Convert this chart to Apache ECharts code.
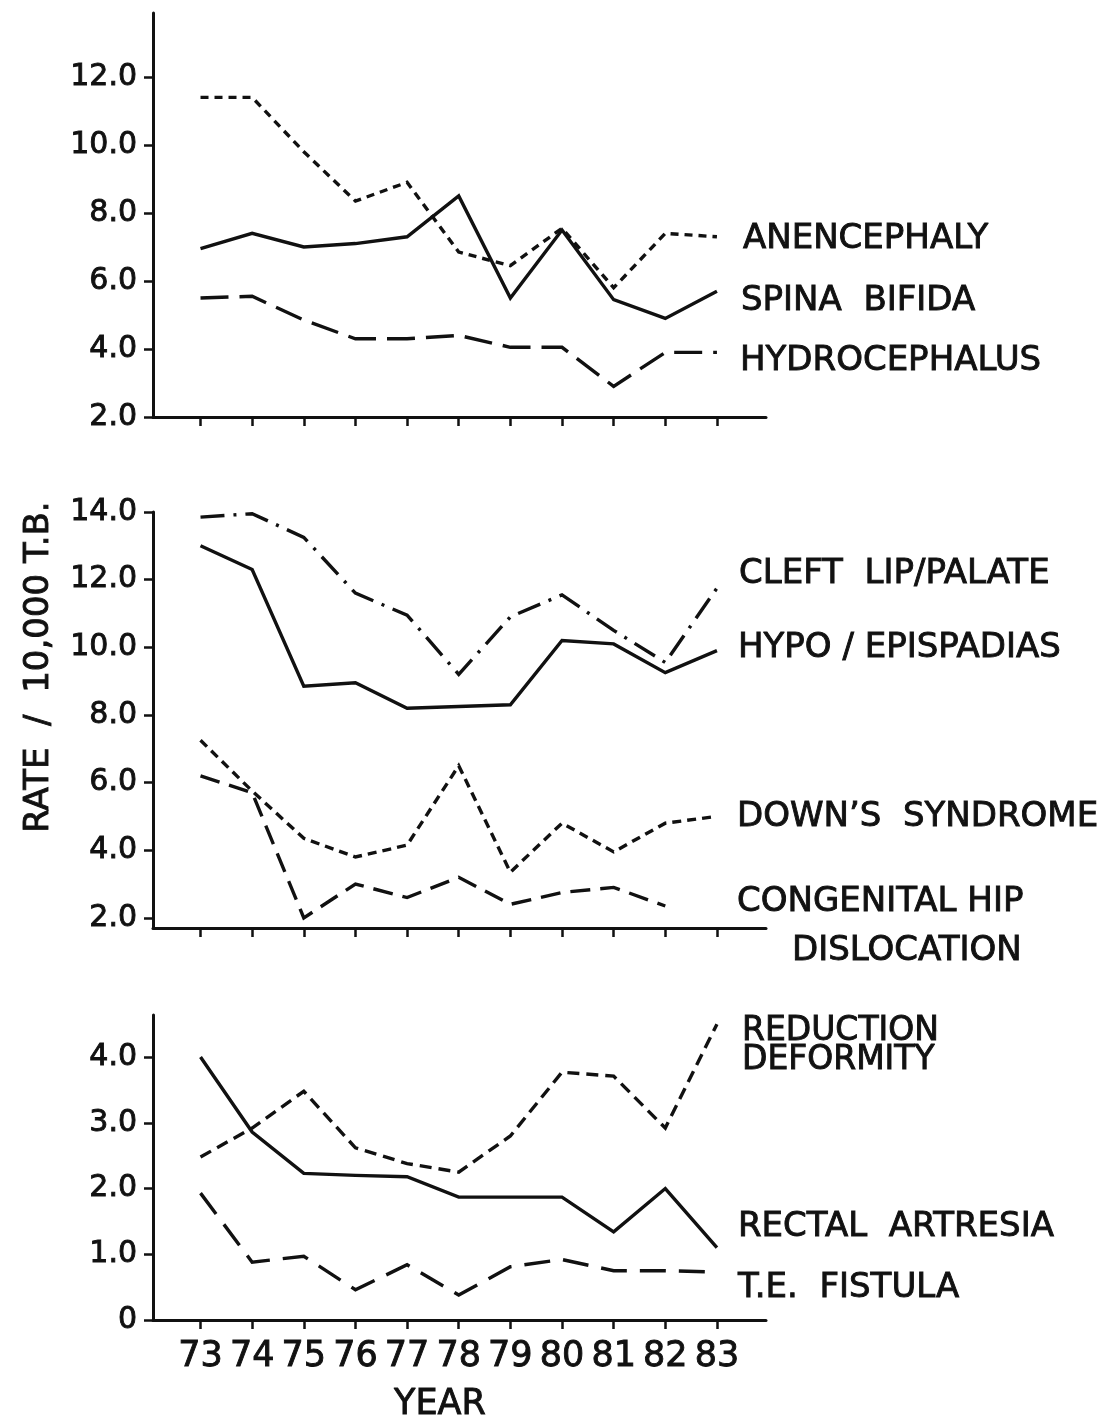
<!DOCTYPE html>
<html>
<head>
<meta charset="utf-8">
<title>Birth defect rates, 1973–1983</title>
<script src="https://cdn.jsdelivr.net/npm/echarts@6/dist/echarts.min.js"></script>
<style>
  html, body { margin: 0; padding: 0; background: #fff; }
  #chart { width: 1107px; height: 1420px; }
</style>
</head>
<body>
<div id="chart"></div>
<script>
// Years on the shared horizontal axis
const years = [73, 74, 75, 76, 77, 78, 79, 80, 81, 82, 83];

// Panel 1: neural tube defects (rate per 10,000 total births)
const anencephaly   = [11.4, 11.4, 9.8, 8.35, 8.9, 6.85, 6.45, 7.55, 5.8, 7.4, 7.3];
const spinaBifida   = [6.95, 7.4, 7.0, 7.1, 7.3, 8.5, 5.5, 7.5, 5.45, 4.9, 5.7];
const hydrocephalus = [5.5, 5.55, 4.85, 4.3, 4.3, 4.4, 4.05, 4.05, 2.9, 3.9, 3.9];

// Panel 2
const cleftLipPalate   = [13.85, 13.95, 13.25, 11.6, 10.95, 9.2, 10.9, 11.55, 10.5, 9.55, 11.75];
const hypoEpispadias   = [13.0, 12.3, 8.85, 8.95, 8.2, 8.25, 8.3, 10.2, 10.1, 9.25, 9.9];
const downsSyndrome    = [7.25, 5.75, 4.35, 3.8, 4.15, 6.5, 3.35, 4.8, 3.95, 4.8, 5.0];
const congenitalHip    = [6.2, 5.7, 2.0, 3.0, 2.6, 3.2, 2.4, 2.75, 2.9, 2.35];

// Panel 3
const reductionDeformity = [2.48, 2.92, 3.48, 2.62, 2.38, 2.25, 2.8, 3.77, 3.71, 2.92, 4.5];
const rectalAtresia      = [4.0, 2.86, 2.23, 2.2, 2.18, 1.87, 1.87, 1.87, 1.34, 2.0, 1.1];
const teFistula          = [1.93, 0.88, 0.97, 0.46, 0.84, 0.38, 0.81, 0.92, 0.75, 0.75, 0.73];

// Tick values for each panel's vertical axis
const ticksTop    = [2, 4, 6, 8, 10, 12];
const ticksMiddle = [2, 4, 6, 8, 10, 12, 14];
const ticksBottom = [0, 1, 2, 3, 4];

const INK = '#111';
const FONT = '"DejaVu Sans", "Liberation Sans", sans-serif';
const HEAVY = 0.9; // thin outline that thickens the printed lettering

const pairs = vals => vals.map((v, i) => [years[i], v]);

function xAxisFor(gridIndex, showLabels) {
  return {
    type: 'value', gridIndex,
    min: 72.08, max: 83.95,
    axisLine: { show: true, onZero: false, lineStyle: { color: INK, width: 3 } },
    axisTick: { show: true, customValues: years, length: 9, lineStyle: { color: INK, width: 2.5 } },
    axisLabel: {
      show: showLabels, customValues: years, margin: 19,
      color: INK, fontFamily: FONT, fontSize: 35,
      textBorderColor: INK, textBorderWidth: HEAVY
    },
    splitLine: { show: false }
  };
}

function yAxisFor(gridIndex, min, max, ticks, fmt) {
  return {
    type: 'value', gridIndex, min, max,
    axisLine: { show: true, onZero: false, lineStyle: { color: INK, width: 3 } },
    axisTick: { show: true, customValues: ticks, length: 9, lineStyle: { color: INK, width: 2.5 } },
    axisLabel: {
      customValues: ticks, margin: 16, formatter: fmt,
      color: INK, fontFamily: FONT, fontSize: 30,
      textBorderColor: INK, textBorderWidth: HEAVY
    },
    splitLine: { show: false }
  };
}

function line(name, idx, vals, dash) {
  return {
    name, type: 'line', xAxisIndex: idx, yAxisIndex: idx,
    data: pairs(vals), symbol: 'none', silent: true,
    lineStyle: { color: INK, width: 3.4, type: dash || 'solid', cap: 'butt', join: 'miter' }
  };
}

function label(text, x, y, size) {
  return {
    type: 'text', x, y, silent: true,
    style: {
      text, fill: INK, font: `${size || 34}px ${FONT}`,
      stroke: INK, lineWidth: HEAVY,
      textAlign: 'left', textVerticalAlign: 'middle'
    }
  };
}

const oneDecimal = v => v.toFixed(1);

const option = {
  backgroundColor: '#fff',
  animation: false,
  grid: [
    { left: 153, width: 613, top: 13, height: 404 },
    { left: 153, width: 613, top: 512, height: 416 },
    { left: 153, width: 613, top: 1015, height: 305 }
  ],
  xAxis: [xAxisFor(0, false), xAxisFor(1, false), xAxisFor(2, true)],
  yAxis: [
    yAxisFor(0, 2, 13.88, ticksTop, oneDecimal),
    yAxisFor(1, 1.7, 14, ticksMiddle, oneDecimal),
    yAxisFor(2, 0, 4.64, ticksBottom, v => (v === 0 ? '0' : v.toFixed(1)))
  ],
  series: [
    line('Anencephaly', 0, anencephaly, [8, 6]),
    line('Spina bifida', 0, spinaBifida),
    line('Hydrocephalus', 0, hydrocephalus, [28, 11]),
    line('Cleft lip/palate', 1, cleftLipPalate, [24, 9, 3, 9]),
    line('Hypo/epispadias', 1, hypoEpispadias),
    line("Down's syndrome", 1, downsSyndrome, [9, 6]),
    line('Congenital hip dislocation', 1, congenitalHip, [20, 10]),
    line('Reduction deformity', 2, reductionDeformity, [12, 7]),
    line('Rectal atresia', 2, rectalAtresia),
    line('T.E. fistula', 2, teFistula, [26, 13])
  ],
  graphic: [
    label('ANENCEPHALY', 743, 239),
    label('SPINA  BIFIDA', 741, 301),
    label('HYDROCEPHALUS', 740, 361),
    label('CLEFT  LIP/PALATE', 739, 574),
    label('HYPO / EPISPADIAS', 738, 648),
    label('DOWN\u2019S  SYNDROME', 737, 817),
    label('CONGENITAL HIP', 737, 902),
    label('DISLOCATION', 792, 951),
    label('REDUCTION', 742, 1031, 33),
    label('DEFORMITY', 742, 1060, 33),
    label('RECTAL  ARTRESIA', 738, 1227),
    label('T.E.  FISTULA', 738, 1288),
    {
      type: 'text', x: 440, y: 1405, silent: true,
      style: {
        text: 'YEAR', fill: INK, font: `35px ${FONT}`, stroke: INK, lineWidth: HEAVY,
        textAlign: 'center', textVerticalAlign: 'middle'
      }
    },
    {
      type: 'text', x: 39, y: 667, rotation: Math.PI / 2, silent: true,
      style: {
        text: 'RATE  /  10,000 T.B.', fill: INK, font: `34px ${FONT}`, stroke: INK, lineWidth: HEAVY,
        textAlign: 'center', textVerticalAlign: 'middle'
      }
    }
  ]
};

const chart = echarts.init(document.getElementById('chart'), null, { renderer: 'canvas' });
chart.setOption(option);
</script>
</body>
</html>
